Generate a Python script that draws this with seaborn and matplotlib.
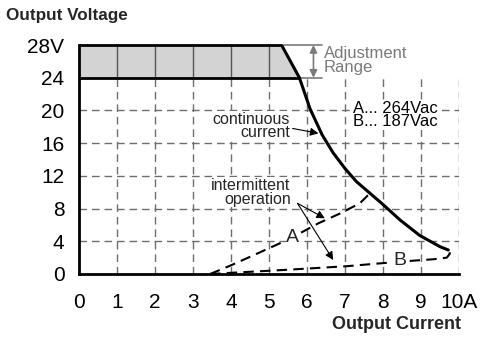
import matplotlib
matplotlib.use("Agg")
import matplotlib.pyplot as plt
import seaborn as sns
import pandas as pd

# ---- data ----
cont_x = [5.33, 5.80, 6.08, 6.40, 6.69, 7.00, 7.30, 7.66, 8.00, 8.45, 8.97, 9.50, 9.72]
cont_v = [28.0, 24.0, 20.2, 17.0, 14.8, 12.9, 11.3, 9.86, 8.5, 6.6, 4.7, 3.34, 2.93]
a_x = [3.45, 3.97, 4.50, 5.38, 5.82, 6.30, 6.87, 7.39, 7.64]
a_v = [0.0, 1.0, 2.1, 3.95, 5.0, 6.2, 7.4, 8.64, 9.8]
b_x = [3.45, 4.06, 5.38, 7.04, 7.92, 8.80, 9.32, 9.68, 9.76, 9.72]
b_v = [0.0, 0.16, 0.49, 0.95, 1.3, 1.63, 1.8, 2.0, 2.5, 2.93]
band_lo, band_hi = 24, 28
x_ticks = [0, 1, 2, 3, 4, 5, 6, 7, 8, 9, 10]
x_labels = ["0", "1", "2", "3", "4", "5", "6", "7", "8", "9", "10A"]
y_ticks = [0, 4, 8, 12, 16, 20, 24, 28]
y_labels = ["0", "4", "8", "12", "16", "20", "24", "28V"]

sns.set_style("white")
plt.rcParams["font.family"] = ["Liberation Sans", "DejaVu Sans"]

fig = plt.figure(figsize=(5.0, 3.41), dpi=100)
ax = fig.add_axes([0.158, 0.1965, 0.76, 0.6715])
ax.set_xlim(0, 10)
ax.set_ylim(0, 28)

grid_c = "#6e6e6e"
dash = (0, (5.5, 3.5))
# grid
for gx in x_ticks[1:]:
    ax.plot([gx, gx], [0, band_lo], color=grid_c, lw=1.0, ls=dash, zorder=1)
for gy in y_ticks[1:-2]:
    ax.plot([0, 10], [gy, gy], color=grid_c, lw=1.0, ls=dash, zorder=1)

# adjustment band
ax.fill_betweenx([band_lo, band_hi], 0, [cont_x[1], cont_x[0]], color="#d3d3d3", zorder=2, lw=0)
for gx in x_ticks[1:6]:
    ax.plot([gx, gx], [band_lo, band_hi], color="#555555", lw=1.0, zorder=2.5)
ax.plot([0, cont_x[0]], [band_hi, band_hi], color="black", lw=2.0, zorder=4, clip_on=False, solid_capstyle="butt")
ax.plot([0, cont_x[1]], [band_lo, band_lo], color="black", lw=2.0, zorder=4, solid_capstyle="butt")

# curves
df_c = pd.DataFrame({"I": cont_x, "V": cont_v})
df_a = pd.DataFrame({"I": a_x, "V": a_v})
df_b = pd.DataFrame({"I": b_x, "V": b_v})
sns.lineplot(data=df_c, x="I", y="V", sort=False, estimator=None, color="black", lw=2.2, ax=ax, zorder=5,
             solid_joinstyle="round")
sns.lineplot(data=df_a, x="I", y="V", sort=False, estimator=None, color="black", lw=1.5, ax=ax, zorder=5)
sns.lineplot(data=df_b, x="I", y="V", sort=False, estimator=None, color="black", lw=1.5, ax=ax, zorder=5)
ax.lines[-2].set_linestyle((0, (5, 3)))
ax.lines[-1].set_linestyle((0, (5, 3)))

# adjustment range bracket
gc = "#7a7a7a"
ax.plot([cont_x[0], 6.39], [band_hi, band_hi], color=gc, lw=1.2, clip_on=False, zorder=3)
ax.plot([cont_x[1], 6.39], [band_lo, band_lo], color=gc, lw=1.2, zorder=3)
ax.annotate("", xy=(6.17, band_lo), xytext=(6.17, band_hi),
            arrowprops=dict(arrowstyle="<|-|>", color=gc, lw=1.2, mutation_scale=11,
                            shrinkA=0, shrinkB=0), annotation_clip=False)
ax.text(6.45, 26.1, "Adjustment\nRange", color=gc, fontsize=12, va="center", ha="left",
        linespacing=0.85)

# legend text
ax.text(7.2, 19.45, "A... 264Vac\nB... 187Vac", color="black", fontsize=12, va="center", ha="left",
        linespacing=0.9, zorder=6,
        bbox=dict(facecolor="white", edgecolor="none", pad=0.5))

# annotations
ax.text(5.55, 18.1, "continuous\ncurrent", fontsize=11.5, ha="right", va="center", linespacing=0.9,
        zorder=6, bbox=dict(facecolor="white", edgecolor="none", pad=0.3))
ax.annotate("", xy=(6.3, 17.2), xytext=(5.62, 17.8),
            arrowprops=dict(arrowstyle="-|>", color="black", lw=0.8, mutation_scale=12, shrinkA=0, shrinkB=0))
ax.text(5.57, 10.0, "intermittent\noperation", fontsize=11.5, ha="right", va="center", linespacing=0.9,
        zorder=6, bbox=dict(facecolor="white", edgecolor="none", pad=0.3))
for tx, ty in [(6.47, 6.81), (6.69, 1.71)]:
    ax.annotate("", xy=(tx, ty), xytext=(5.75, 8.64),
                arrowprops=dict(arrowstyle="-|>", color="black", lw=0.8, mutation_scale=12,
                                shrinkA=0, shrinkB=0), zorder=6)
ax.text(5.63, 4.5, "A", fontsize=14, ha="center", va="center", zorder=6,
        bbox=dict(facecolor="white", edgecolor="none", pad=0.3))
ax.text(8.45, 1.6, "B", fontsize=14, ha="center", va="center", zorder=6,
        bbox=dict(facecolor="white", edgecolor="none", pad=0.3))

# axes styling
for s in ["top", "right"]:
    ax.spines[s].set_visible(False)
for s in ["left", "bottom"]:
    ax.spines[s].set_linewidth(2.0)
    ax.spines[s].set_color("black")
    ax.spines[s].set_zorder(6)
ax.set_xticks(x_ticks)
ax.set_xticklabels(x_labels)
ax.set_yticks(y_ticks)
ax.set_yticklabels(y_labels)
ax.tick_params(axis="both", direction="inout", length=9, width=1.5, colors="black",
               labelsize=15)
ax.tick_params(axis="x", pad=9)
ax.tick_params(axis="y", pad=6)
ax.set_xlabel("")
ax.set_ylabel("")

fig.text(0.012, 0.955, "Output Voltage", fontsize=12.3, fontweight="bold", ha="left", va="center")
fig.text(0.922, 0.047, "Output Current", fontsize=13, fontweight="bold", ha="right", va="center")

fig.savefig("out.png", dpi=100)
